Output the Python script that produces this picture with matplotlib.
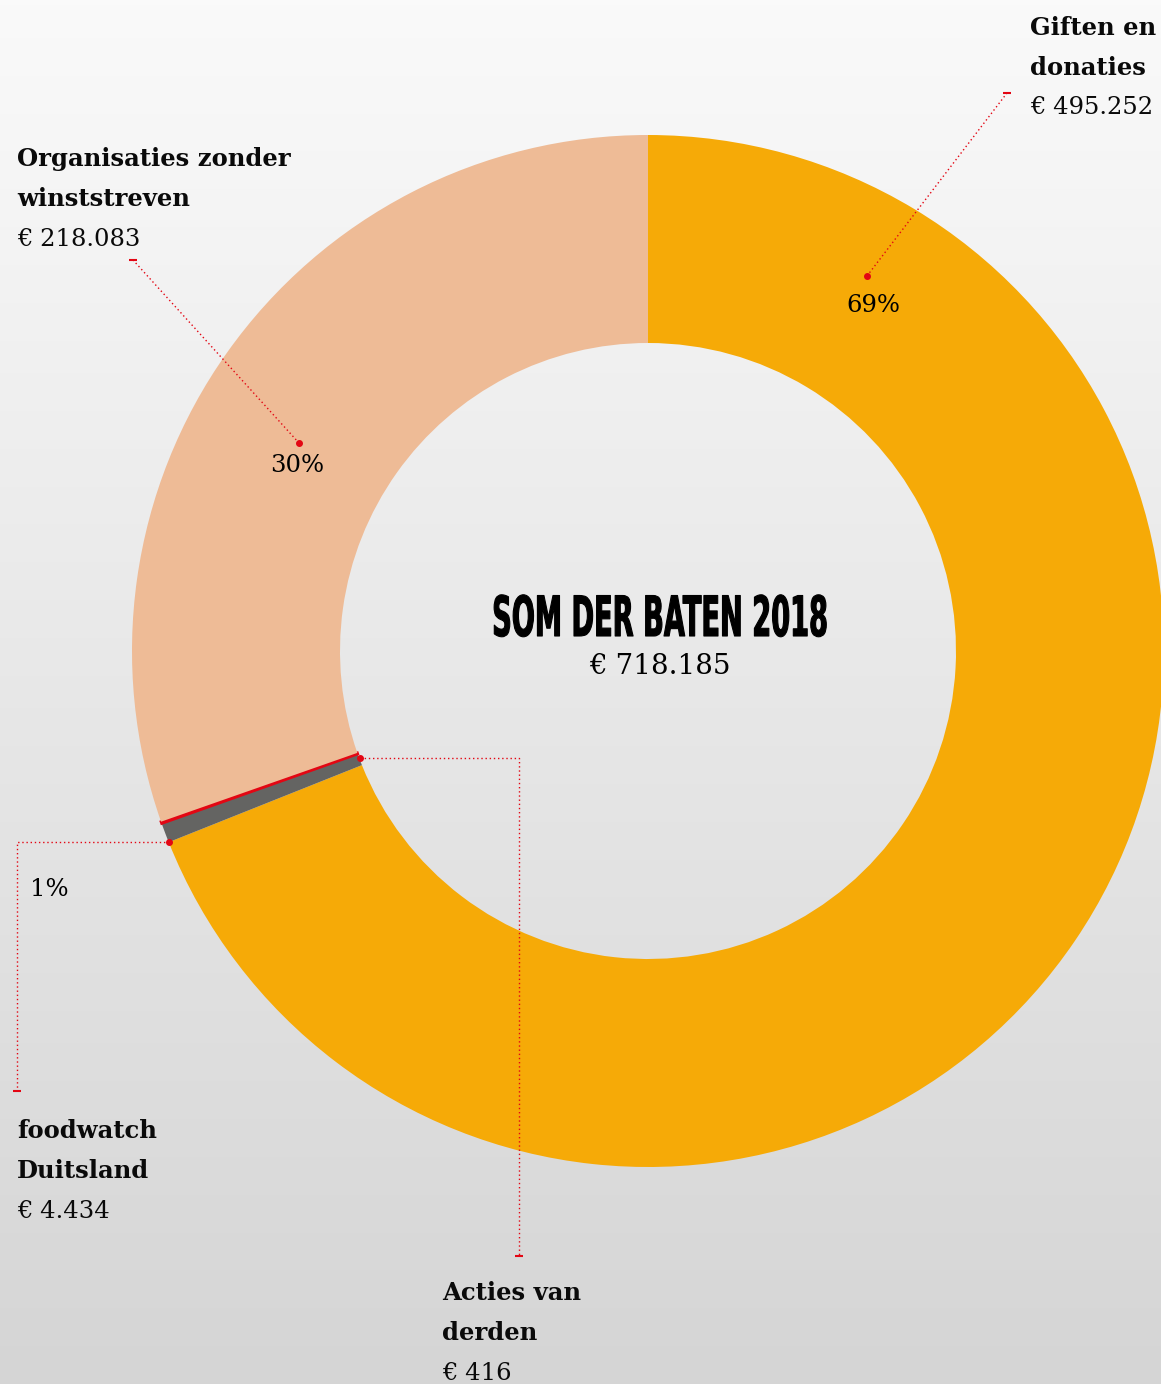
import matplotlib
matplotlib.use('Agg')
import matplotlib.pyplot as plt
from matplotlib.colors import to_rgb
from matplotlib.patheffects import AbstractPathEffect
from matplotlib.transforms import Affine2D
import numpy as np

W, H = 1161, 1384

# data
categories = ['Giften en\ndonaties', 'foodwatch\nDuitsland', 'Acties van\nderden', 'Organisaties zonder\nwinststreven']
amounts = [495252, 4434, 416, 218083]
amount_labels = ['€ 495.252', '€ 4.434', '€ 416', '€ 218.083']
pct_labels = ['69%', '1%', '', '30%']
total_label = '€ 718.185'
title = 'SOM DER BATEN 2018'

colors = ['#F6AA07', '#646462', '#E30613', '#EEBB96']
red = '#E30613'
serif = ['DejaVu Serif']
fs = 17.5


class Squeeze(AbstractPathEffect):
    """tekst horizontaal smaller en dikker maken (condensed letter)"""
    def __init__(self, sx, x0, lw=0):
        super().__init__()
        self.sx, self.x0, self.lw = sx, x0, lw

    def draw_path(self, renderer, gc, tpath, affine, rgbFace=None):
        t = affine + Affine2D().translate(-self.x0, 0).scale(self.sx, 1).translate(self.x0, 0)
        gc0 = renderer.new_gc()
        gc0.copy_properties(gc)
        gc0.set_linewidth(self.lw)
        gc0.set_foreground(rgbFace if rgbFace is not None else 'black')
        renderer.draw_path(gc0, tpath, t, rgbFace)
        gc0.restore()


fig = plt.figure(figsize=(W / 100, H / 100), dpi=100)
ax = fig.add_axes([0, 0, 1, 1])

# achtergrond verloop
top, bot = np.array(to_rgb('#FAFAFA')), np.array(to_rgb('#D5D5D5'))
t = np.linspace(0, 1, 256)[:, None]
grad = (top * (1 - t) + bot * t)[:, None, :]
ax.imshow(grad, extent=(0, W, 0, H), aspect='auto', zorder=0)

cx, cy = 648, H - 651
R, w = 516, 208
wedges, _ = ax.pie(amounts, colors=colors, startangle=90, counterclock=False,
                   radius=R, center=(cx, cy), frame=True,
                   wedgeprops=dict(width=w, linewidth=0))
wedges[2].set_edgecolor(red)
wedges[2].set_linewidth(2)
for wd in wedges:
    wd.set_zorder(2)

ax.set_xlim(0, W)
ax.set_ylim(0, H)
ax.set_aspect('equal')
ax.axis('off')


def P(x, y):
    return x, H - y


def polar(theta, r):
    a = np.deg2rad(theta)
    return cx + r * np.cos(a), cy + r * np.sin(a)


def leader(pts):
    xs, ys = zip(*pts)
    ax.plot(xs, ys, color=red, lw=1, ls=(0, (1, 2)), zorder=3)
    ax.plot(*pts[0], 'o', color=red, ms=4, zorder=4)
    ax.plot(*pts[-1], marker='_', color=red, ms=6, mew=1.5, zorder=4)


def label(x, y, name, amount):
    lines = name.split('\n')
    for i, ln in enumerate(lines):
        ax.text(*P(x, y + i * 40), ln, fontsize=fs, fontweight='bold',
                family=serif, va='center', ha='left', color='#0a0a0a')
    ax.text(*P(x, y + len(lines) * 40), amount, fontsize=fs,
            family=serif, va='center', ha='left', color='#0a0a0a')


# Giften en donaties
leader([P(867, 276), P(1007, 93)])
label(1030, 28, categories[0], amount_labels[0])
ax.text(*P(873, 306), pct_labels[0], fontsize=fs, family=serif, ha='center', va='center')

# Organisaties zonder winststreven
leader([P(299, 443), P(133, 260)])
label(17, 159, categories[3], amount_labels[3])
ax.text(*P(297, 466), pct_labels[3], fontsize=fs, family=serif, ha='center', va='center')

# foodwatch Duitsland: buitenrand tussen oranje en grijs
fx, fy = polar(wedges[1].theta2, R)
leader([(fx, fy), (17, fy), P(17, 1091)])
label(17, 1131, categories[1], amount_labels[1])
ax.text(*P(49, 890), pct_labels[1], fontsize=fs, family=serif, ha='center', va='center')

# Acties van derden: binnenrand
axx, axy = polar(wedges[2].theta1, R - w)
ly = H - 758
leader([(axx + 3, ly), (519, ly), P(519, 1256)])
label(442, 1293, categories[2], amount_labels[2])

# midden
tx = 660
ax.text(*P(tx, 621), title, fontsize=40, fontweight='heavy',
        family=['DejaVu Sans'], ha='center', va='center',
        path_effects=[Squeeze(0.49, tx, lw=0.8)])
ax.text(*P(tx, 666), total_label, fontsize=20, family=serif, ha='center', va='center')

fig.savefig('out.png', dpi=100)
